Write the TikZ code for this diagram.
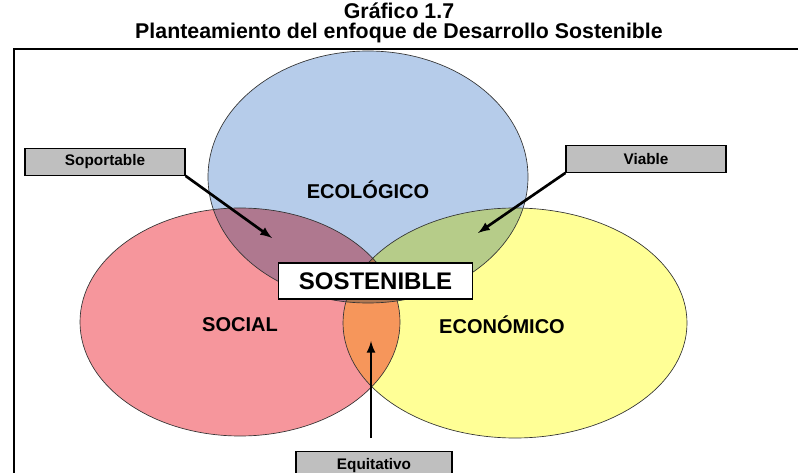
\documentclass[tikz,border=0pt]{standalone}
\usepackage{fontspec}
\setmainfont{Liberation Sans}
\usetikzlibrary{positioning}

\definecolor{RougeZone}{RGB}{246,150,156}
\definecolor{JauneZone}{RGB}{255,255,150}
\definecolor{BleuZone}{RGB}{182,204,234}

\newcommand{\EtiquetteLink}[5]{
\node[Etiquette,minimum width=#4] (#1) at (#3) {#2};
\draw[Fleche] (#1.#5) -- (#1-pt);
}
\tikzset{every node/.style={font=\bfseries}}
\tikzset{Zone/.style={blend mode=multiply}}
\tikzset{Bord/.style={draw=black!80,line width=0.5pt}}
\tikzset{Etiquette/.style={draw,black,fill=black!25,line width=0.8pt,minimum height=20pt,inner sep=0pt,font=\bfseries\fontsize{11.5}{13}\selectfont}}
\tikzset{Fleche/.style={line width=2pt,-latex}}
\tikzset{Titre/.style={font=\bfseries\fontsize{16}{18}\selectfont}}

\begin{document}
\begin{tikzpicture}[x=0.75pt,y=-0.75pt]
\useasboundingbox (0,0) rectangle (798,473);
\clip (0,0) rectangle (798,473);

\node[Titre] (titre1) at (399,11) {Gráfico 1.7};
\node[Titre] (titre2) at (399,33) {Planteamiento del enfoque de Desarrollo Sostenible};

\draw[line width=2pt] (14,490) -- (14,49) -- (820,49);

% les trois zones
\fill[Zone,RougeZone] (240,322) ellipse [x radius=160, y radius=114];
\fill[Zone,JauneZone] (515,323) ellipse [x radius=172, y radius=115];
\fill[Zone,BleuZone] (368,177) ellipse [x radius=160, y radius=126];
\draw[Bord] (240,322) ellipse [x radius=160, y radius=114];
\draw[Bord] (515,323) ellipse [x radius=172, y radius=115];
\draw[Bord] (368,177) ellipse [x radius=160, y radius=126];

\node[font=\bfseries\fontsize{15}{17}\selectfont] (eco) at (368,190) {ECOLÓGICO};
\node[font=\bfseries\fontsize{15}{17}\selectfont] (soc) at (240,325) {SOCIAL};
\node[font=\bfseries\fontsize{15}{17}\selectfont] (econ) at (502,325) {ECONÓMICO};

\node[draw,fill=white,line width=0.8pt,minimum width=146pt,minimum height=27pt,
      font=\bfseries\fontsize{18}{20}\selectfont] (sost) at (375.5,281) {SOSTENIBLE};

\coordinate (sop-pt) at (272,238);
\coordinate (via-pt) at (478,233);
\coordinate (equ-pt) at (371,341);
\coordinate (equ-base) at (371,438);

\EtiquetteLink{sop}{Soportable}{105,162}{120pt}{south east}

\EtiquetteLink{via}{Viable}{646,159}{120pt}{south west}

\node[Etiquette,minimum width=117pt,minimum height=22pt] (equ) at (374,466) {Equitativo};
	\draw[Fleche] (equ-base) -- (equ-pt);

\end{tikzpicture}
\end{document}
